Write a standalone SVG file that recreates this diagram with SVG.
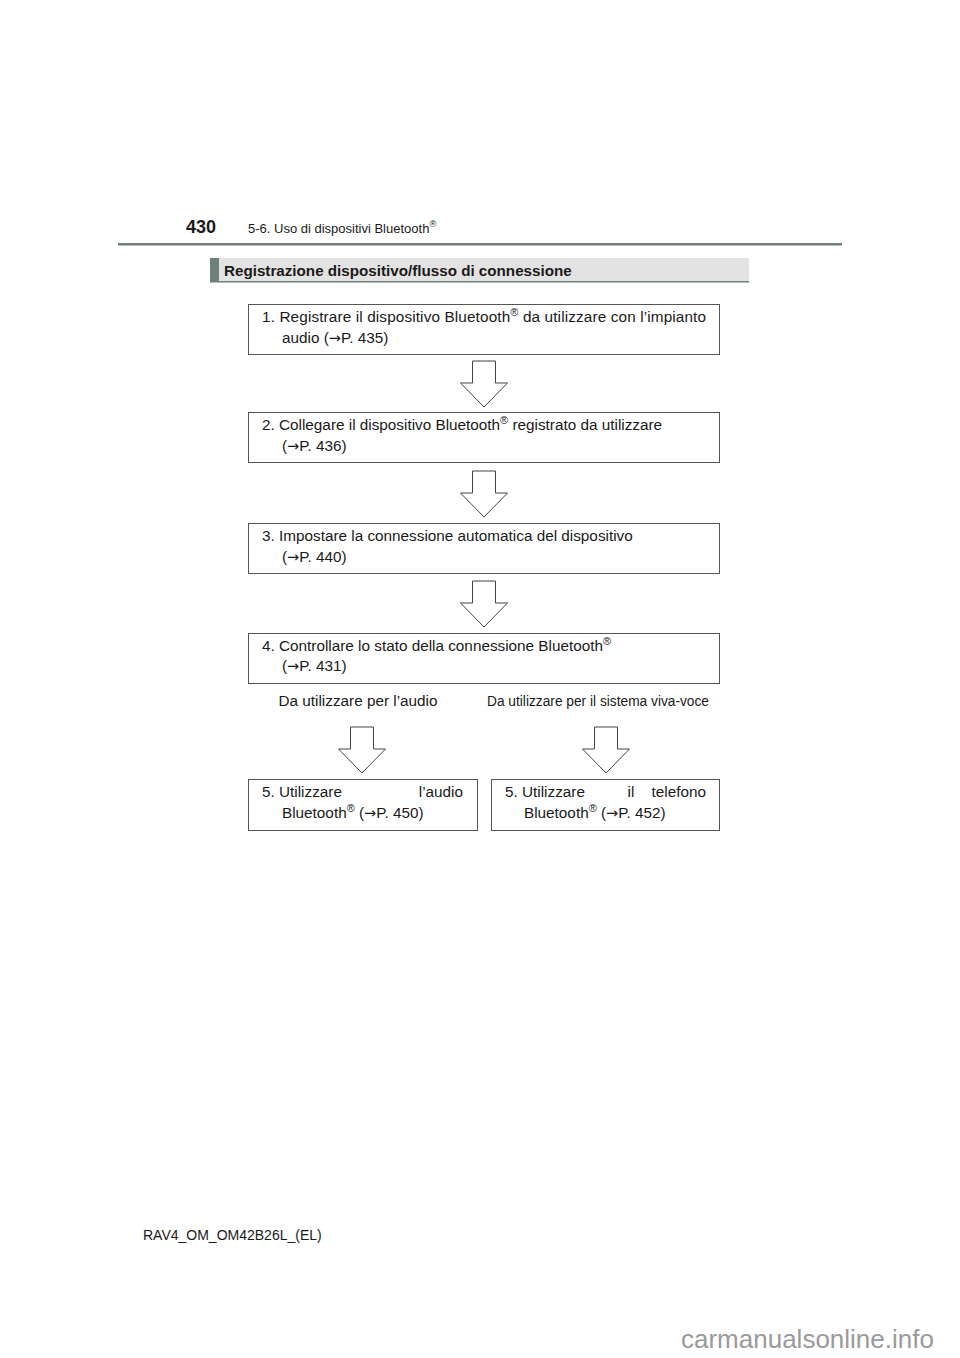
<svg xmlns="http://www.w3.org/2000/svg" width="960" height="1358" viewBox="0 0 960 1358">
<style>
text{font-family:"Liberation Sans",Arial,sans-serif;fill:#1a1a1a}
.t{font-size:15.3px}
.box{fill:#fff;stroke:#555;stroke-width:1}
.arr{fill:#fff;stroke:#444;stroke-width:1}
.sup{font-size:11px}
.ar{font-family:"DejaVu Sans",sans-serif;font-size:14.5px}
</style>
<rect width="960" height="1358" fill="#fff"/>
<g id="header">
<text x="186" y="233" font-size="18" font-weight="bold">430</text>
<text x="248" y="233" font-size="13">5-6. Uso di dispositivi Bluetooth<tspan font-size="9.5" dy="-6">®</tspan></text>
<rect x="118" y="243" width="724" height="2.5" fill="#6f7f7b"/>
</g>
<g id="section">
<rect x="210" y="258" width="539" height="24" fill="#e3e3e3"/>
<rect x="210" y="258" width="9" height="24" fill="#6f7f7b"/>
<rect x="210" y="281" width="539" height="1.5" fill="#6f7f7b"/>
<text x="224" y="275.5" font-size="15.2" font-weight="bold">Registrazione dispositivo/flusso di connessione</text>
</g>
<g id="connectors">
<path class="arr" d="M472.5,361 H495.5 V383 H507.5 L484,407 L460.5,383 H472.5 Z"/>
<path class="arr" d="M472.5,471 H495.5 V493 H507.5 L484,517 L460.5,493 H472.5 Z"/>
<path class="arr" d="M472.5,581 H495.5 V603 H507.5 L484,627 L460.5,603 H472.5 Z"/>
<path class="arr" d="M350.5,727 H373.5 V749 H385.5 L362,773 L338.5,749 H350.5 Z"/>
<path class="arr" d="M594.5,727 H617.5 V749 H629.5 L606,773 L582.5,749 H594.5 Z"/>
</g>
<g id="node1">
<rect class="box" x="248.5" y="304.5" width="471" height="50"/>
<text class="t" x="262" y="322" textLength="444" lengthAdjust="spacing">1. Registrare il dispositivo Bluetooth<tspan class="sup" dy="-6">®</tspan><tspan dy="6"> da utilizzare con l’impianto</tspan></text>
<text class="t" x="282" y="343">audio (<tspan class="ar">→</tspan>P. 435)</text>
</g>
<g id="node2">
<rect class="box" x="248.5" y="412.5" width="471" height="50"/>
<text class="t" x="262" y="430">2. Collegare il dispositivo Bluetooth<tspan class="sup" dy="-6">®</tspan><tspan dy="6"> registrato da utilizzare</tspan></text>
<text class="t" x="282" y="451">(<tspan class="ar">→</tspan>P. 436)</text>
</g>
<g id="node3">
<rect class="box" x="248.5" y="523.5" width="471" height="50"/>
<text class="t" x="262" y="541">3. Impostare la connessione automatica del dispositivo</text>
<text class="t" x="282" y="562">(<tspan class="ar">→</tspan>P. 440)</text>
</g>
<g id="node4">
<rect class="box" x="248.5" y="633.5" width="471" height="50"/>
<text class="t" x="262" y="651">4. Controllare lo stato della connessione Bluetooth<tspan class="sup" dy="-6">®</tspan></text>
<text class="t" x="282" y="671">(<tspan class="ar">→</tspan>P. 431)</text>
</g>
<g id="labels">
<text class="t" x="358" y="706" text-anchor="middle">Da utilizzare per l’audio</text>
<text x="487" y="706" font-size="14" textLength="222" lengthAdjust="spacingAndGlyphs">Da utilizzare per il sistema viva-voce</text>
</g>
<g id="node5a">
<rect class="box" x="248.5" y="779.5" width="229" height="51"/>
<text class="t" x="262" y="797">5. Utilizzare</text>
<text class="t" x="463" y="797" text-anchor="end">l’audio</text>
<text class="t" x="282" y="818">Bluetooth<tspan class="sup" dy="-6">®</tspan><tspan dy="6"> (</tspan><tspan class="ar">→</tspan>P. 450)</text>
</g>
<g id="node5b">
<rect class="box" x="491.5" y="779.5" width="228" height="51"/>
<text class="t" x="505" y="797">5. Utilizzare</text>
<text class="t" x="631" y="797" text-anchor="middle">il</text>
<text class="t" x="706" y="797" text-anchor="end">telefono</text>
<text class="t" x="524" y="818">Bluetooth<tspan class="sup" dy="-6">®</tspan><tspan dy="6"> (</tspan><tspan class="ar">→</tspan>P. 452)</text>
</g>
<g id="footer">
<text x="143" y="1240" font-size="14">RAV4_OM_OM42B26L_(EL)</text>
<text x="681" y="1348" font-size="26" style="fill:#9a9a9a">carmanualsonline.info</text>
</g>
</svg>
